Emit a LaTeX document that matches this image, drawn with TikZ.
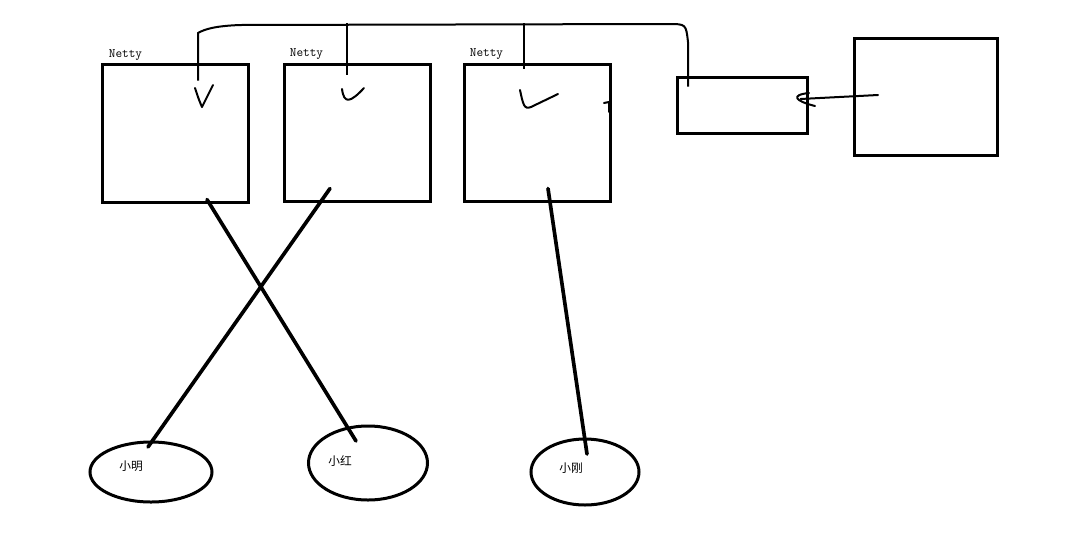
\documentclass[tikz,border=0pt]{standalone}
\usepackage{fontspec}
\newfontfamily\cjk{Noto Sans CJK SC}
\usetikzlibrary{calc,shapes.geometric,arrows.meta}

\tikzset{
  box/.style={draw, line width=0.9mm, minimum width=#1},
  user/.style={draw, ellipse, line width=0.9mm, inner sep=0pt},
  netty/.style={font=\ttfamily\fontsize{11}{12}\selectfont, inner sep=0pt},
  uname/.style={font=\cjk\fontsize{10}{12}\selectfont, inner sep=0pt},
  wire/.style={line width=1.1mm, line cap=round},
  bus/.style={line width=0.6mm},
  tick/.style={line width=0.6mm, line cap=round, line join=round}
}

\begin{document}
\begin{tikzpicture}[x=0.03cm, y=-0.03cm]
  \useasboundingbox (0,0) rectangle (1083,551);

  % netty servers
  \node[box=4.35cm, minimum height=4.14cm] (n1) at (175.5,133) {};
  \node[box=4.35cm, minimum height=4.11cm] (n2) at (357.5,132.5) {};
  \node[box=4.38cm, minimum height=4.11cm] (n3) at (537,132.5) {};
  \node[netty] (t1) at ($(n1.north west)+(24,-7)$) {Netty};
  \node[netty] (t2) at ($(n2.north west)+(23,-8)$) {Netty};
  \node[netty] (t3) at ($(n3.north west)+(24,-8)$) {Netty};

  % right side
  \node[box=3.9cm, minimum height=1.68cm] (proxy) at (742,105) {};
  \node[box=4.29cm, minimum height=3.51cm] (srv) at (925.5,96.5) {};

  % users
  \node[user, minimum width=3.66cm, minimum height=1.8cm] (e1) at (151,472) {};
  \node[user, minimum width=3.57cm, minimum height=2.22cm] (e2) at (368,463) {};
  \node[user, minimum width=3.24cm, minimum height=1.98cm] (e3) at (585,472) {};
  \node[uname] (u1) at (131,466) {小明};
  \node[uname] (u2) at (340,461) {小红};
  \node[uname] (u3) at (571,468) {小刚};

  % connections
  \draw[wire] ($(n1.south)+(31.5,-4)$) -- ($(e2.center)+(-12,-22)$);
  \draw[wire] ($(n2.south)+(-27.5,-14)$) -- ($(e1.center)+(-3,-25)$);
  \draw[wire] ($(n3.south)+(11,-14)$) -- ($(e3.center)+(2,-18)$);

  % top line
  \coordinate (b1) at ($(n1.north)+(22.5,18)$);
  \coordinate (b4) at ($(proxy.north)+(-54,11)$);
  \draw[bus] (b1) -- (b1 |- 0,33) .. controls (205,29) and (215,26) .. (240,25)
    -- (668,24) .. controls (686,24) .. (688,42) -- (b4);
  \draw[bus] ($(n2.north)+(-10.5,12)$) -- ++(0,-52);
  \draw[bus] ($(n3.north)+(-13,6)$) -- ++(0,-46);

  % checks
  \draw[tick] (195,88) .. controls (199,100) .. (202,107) -- (213,85);
  \draw[tick] (342,89) .. controls (344,104) and (350,103) .. (364,88);
  \draw[tick] (520,90) .. controls (523,104) and (524,110) .. (531,107) -- (558,94);
  \draw[tick] (604,103) -- (609,102) -- (609,112);

  % arrow
  \coordinate (a1) at ($(srv.center)+(-47.5,-1.5)$);
  \coordinate (a2) at ($(proxy.east)+(-8,-6)$);
  \draw[tick] (a1) -- (a2);
  \draw[tick] (809,93) .. controls (790,95) and (795,101) .. (815,106);
\end{tikzpicture}
\end{document}
